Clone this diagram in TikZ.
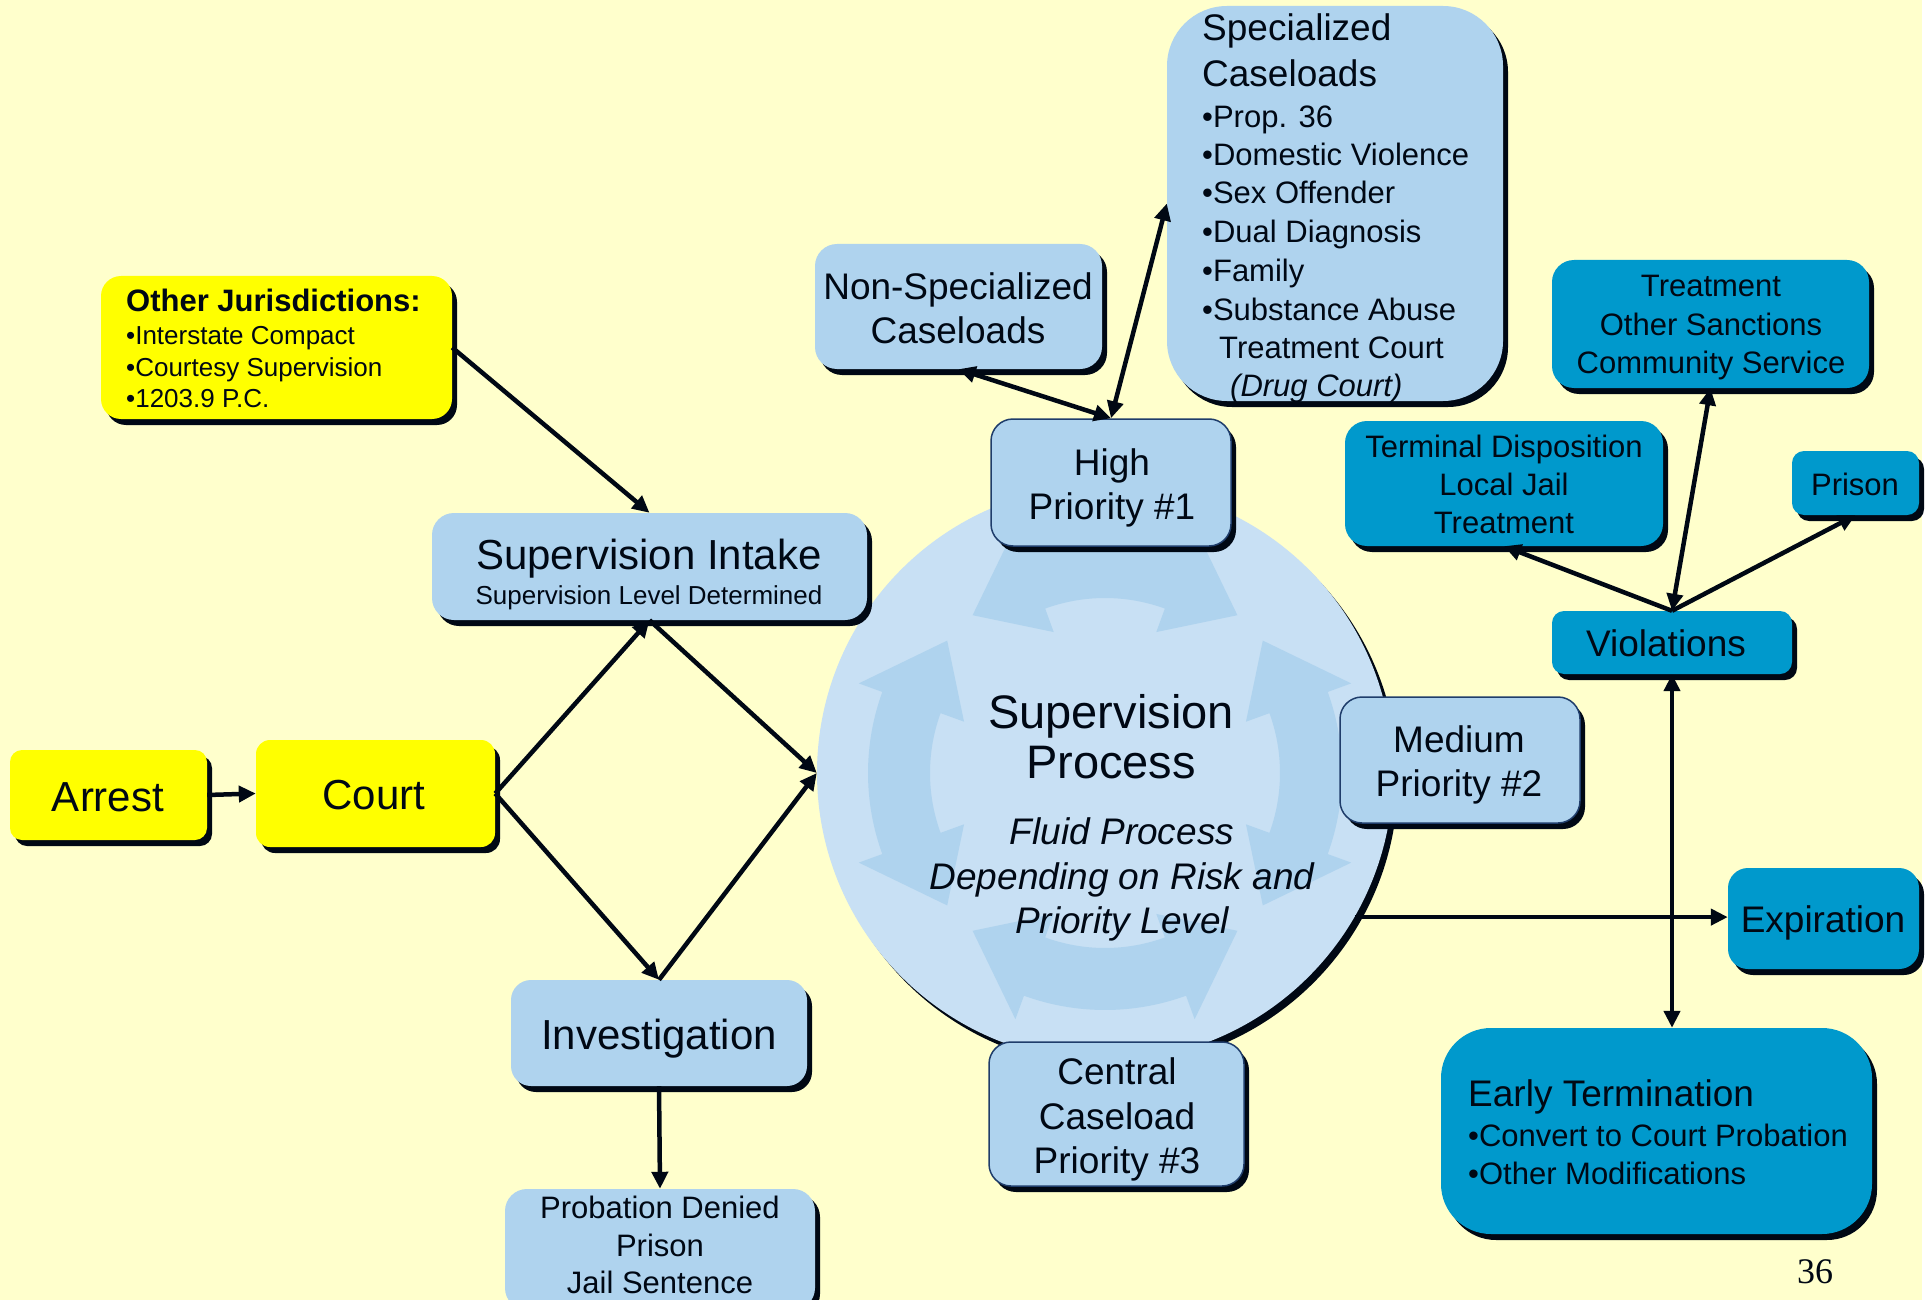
\documentclass[tikz,border=0pt]{standalone}
\usepackage{fontspec}
\setmainfont{Liberation Sans}
\newfontfamily\serifnum{Liberation Serif}
\usetikzlibrary{arrows.meta,shadows}
\definecolor{bgc}{HTML}{FFFFCC}
\definecolor{ybox}{HTML}{FFFF00}
\definecolor{lbox}{HTML}{AFD3EE}
\definecolor{circc}{HTML}{C8E0F4}
\definecolor{bandc}{HTML}{AFD3EE}
\definecolor{tealc}{HTML}{0099CC}
\definecolor{navy}{HTML}{1F3D6B}
\definecolor{ink}{HTML}{000814}
\newcommand\fsA{\fontsize{42}{50}\selectfont}
\newcommand\fsB{\fontsize{37}{44}\selectfont}
\newcommand\fsC{\fontsize{31}{38}\selectfont}
\newcommand\fsD{\fontsize{26}{31}\selectfont}
\newcommand\fsE{\fontsize{47}{56}\selectfont}
\newcommand\cycarrow[1]{%
  \fill[bandc] ({#1-40}:206) -- ({#1-20}:262) -- ({#1-20}:237)
    -- plot[domain={#1-20}:{#1+20},samples=30] (\x:237)
    -- ({#1+20}:262) -- ({#1+40}:206) -- ({#1+20}:150) -- ({#1+20}:175)
    -- plot[domain={#1+20}:{#1-20},samples=30] (\x:175)
    -- ({#1-20}:150) -- cycle;}
\begin{document}
\begin{tikzpicture}[x=1pt,y=-1pt,
  shad/.style={drop shadow={shadow xshift=5pt,shadow yshift=-6pt,opacity=1,fill=ink}},
  box/.style={rectangle,inner sep=0pt,shad},
  yb/.style={box,fill=ybox},
  lb/.style={box,fill=lbox},
  pb/.style={box,fill=lbox,draw=navy,line width=1.5pt},
  tb/.style={box,fill=tealc},
  txt/.style={inner sep=0pt,anchor=base,text=ink},
  ltxt/.style={inner sep=0pt,anchor=base west,text=ink},
  conn/.style={draw=ink,line width=4.5pt,-{Triangle[length=17pt,width=16pt]}},
  dconn/.style={draw=ink,line width=4.5pt,{Triangle[length=17pt,width=16pt]}-{Triangle[length=17pt,width=16pt]}}]
\useasboundingbox (0,0) rectangle (1931,1300);
\fill[bgc] (0,0) rectangle (1931,1300);
\fill[white] (1922,0) rectangle (1931,1300);

% central circle
\node[circle,minimum size=576pt,inner sep=0pt,fill=circc,shad] (circ) at (1105,773) {};
\begin{scope}[shift={(1105,773)}]
\cycarrow{0}
\cycarrow{90}
\cycarrow{180}
\cycarrow{270}
\end{scope}

% boxes
\node[yb,rounded corners=20pt,minimum width=351pt,minimum height=143pt] (oj) at (276.5,347.5) {};
\node[yb,rounded corners=12pt,minimum width=197pt,minimum height=90pt] (arrest) at (108.5,795) {};
\node[yb,rounded corners=14pt,minimum width=239pt,minimum height=107pt] (court) at (375.5,793.5) {};
\node[lb,rounded corners=22pt,minimum width=435pt,minimum height=107pt] (intake) at (649.5,566.5) {};
\node[lb,rounded corners=20pt,minimum width=296pt,minimum height=106pt] (invest) at (659,1033) {};
\node[lb,rounded corners=22pt,minimum width=310pt,minimum height=121pt] (prob) at (660,1249.5) {};
\node[lb,rounded corners=22pt,minimum width=287pt,minimum height=125pt] (nonspec) at (958.5,306.5) {};
\node[lb,rounded corners=60pt,minimum width=336pt,minimum height=395pt] (spec) at (1335,203.5) {};
\node[pb,rounded corners=22pt,minimum width=240pt,minimum height=127pt] (high) at (1111,482.5) {};
\node[pb,rounded corners=22pt,minimum width=240pt,minimum height=126pt] (medium) at (1460,760) {};
\node[pb,rounded corners=22pt,minimum width=255pt,minimum height=144pt] (central) at (1116.5,1114) {};
\node[tb,rounded corners=22pt,minimum width=318pt,minimum height=125pt] (terminal) at (1504,483.5) {};
\node[tb,rounded corners=22pt,minimum width=317pt,minimum height=128pt] (treat) at (1710.5,324) {};
\node[tb,rounded corners=12pt,minimum width=127pt,minimum height=64pt] (prison) at (1855.5,483) {};
\node[tb,rounded corners=12pt,minimum width=240pt,minimum height=63pt] (viol) at (1672,642.5) {};
\node[tb,rounded corners=20pt,minimum width=191pt,minimum height=101pt] (expir) at (1823.5,918.5) {};
\node[tb,rounded corners=50pt,minimum width=431pt,minimum height=206pt] (early) at (1656.5,1131) {};

% texts
\node[ltxt,font=\fsC\bfseries] (ojt1) at (126,311) {Other Jurisdictions:};
\node[ltxt,font=\fsD] (ojt2) at (126,344) {•Interstate Compact};
\node[ltxt,font=\fsD] (ojt3) at (126,376) {•Courtesy Supervision};
\node[ltxt,font=\fsD] (ojt4) at (126,407) {•1203.9 P.C.};
\node[txt,font=\fsA] (arrestt) at (108,811) {Arrest};
\node[txt,font=\fsA] (courtt) at (374,809) {Court};
\node[txt,font=\fsA] (intaket1) at (649,569) {Supervision Intake};
\node[txt,font=\fsD] (intaket2) at (649,604) {Supervision Level Determined};
\node[txt,font=\fsA] (investt) at (659,1049) {Investigation};
\node[txt,font=\fsC] (probt1) at (660,1218) {Probation Denied};
\node[txt,font=\fsC] (probt2) at (660,1256) {Prison};
\node[txt,font=\fsC] (probt3) at (660,1293) {Jail Sentence};
\node[txt,font=\fsB] (nonspect1) at (958,299) {Non-Specialized};
\node[txt,font=\fsB] (nonspect2) at (958,343) {Caseloads};
\node[ltxt,font=\fsB] (spect1) at (1202,41) {Specialized};
\node[ltxt,font=\fsB] (spect2) at (1202,87) {Caseloads};
\node[ltxt,font=\fsC] (spect3) at (1202,128) {•Prop. 36};
\node[ltxt,font=\fsC] (spect4) at (1202,166) {•Domestic Violence};
\node[ltxt,font=\fsC] (spect5) at (1202,204) {•Sex Offender};
\node[ltxt,font=\fsC] (spect6) at (1202,243) {•Dual Diagnosis};
\node[ltxt,font=\fsC] (spect7) at (1202,281) {•Family};
\node[ltxt,font=\fsC] (spect8) at (1202,320) {•Substance Abuse};
\node[ltxt,font=\fsC] (spect9) at (1219,358) {Treatment Court};
\node[ltxt,font=\fsC\itshape] (spect10) at (1230,396) {(Drug Court)};
\node[txt,font=\fsB] (hight1) at (1112,475) {High};
\node[txt,font=\fsB] (hight2) at (1112,519) {Priority \#1};
\node[txt,font=\fsB] (mediumt1) at (1459,752) {Medium};
\node[txt,font=\fsB] (mediumt2) at (1459,796) {Priority \#2};
\node[txt,font=\fsB] (centralt1) at (1117,1084) {Central};
\node[txt,font=\fsB] (centralt2) at (1117,1129) {Caseload};
\node[txt,font=\fsB] (centralt3) at (1117,1173) {Priority \#3};
\node[txt,font=\fsE] (circt1) at (1111,728) {Supervision};
\node[txt,font=\fsE] (circt2) at (1111,778) {Process};
\node[txt,font=\fsB\itshape] (circt3) at (1122,844) {Fluid Process};
\node[txt,font=\fsB\itshape] (circt4) at (1122,889) {Depending on Risk and};
\node[txt,font=\fsB\itshape] (circt5) at (1122,933) {Priority Level};
\node[txt,font=\fsC] (termt1) at (1504,457) {Terminal Disposition};
\node[txt,font=\fsC] (termt2) at (1504,495) {Local Jail};
\node[txt,font=\fsC] (termt3) at (1504,533) {Treatment};
\node[txt,font=\fsC] (treatt1) at (1711,297) {Treatment};
\node[txt,font=\fsC] (treatt2) at (1711,335) {Other Sanctions};
\node[txt,font=\fsC] (treatt3) at (1711,373) {Community Service};
\node[txt,font=\fsC] (prisont) at (1855,495) {Prison};
\node[txt,font=\fsB] (violt) at (1666,656) {Violations};
\node[txt,font=\fsB] (expirt) at (1823,932) {Expiration};
\node[ltxt,font=\fsB] (earlyt1) at (1468,1106) {Early Termination};
\node[ltxt,font=\fsC] (earlyt2) at (1468,1146) {•Convert to Court Probation};
\node[ltxt,font=\fsC] (earlyt3) at (1468,1184) {•Other Modifications};
\node[txt,font=\serifnum\fontsize{36}{40}\selectfont] (pagenum) at (1815,1283) {36};

% connectors
\draw[conn] (oj.east) -- (intake.north);
\draw[conn] (arrest.east) -- (court.west);
\draw[conn] (court.east) -- (intake.south);
\draw[conn] (court.east) -- (invest.north);
\draw[conn] (intake.south) -- (circ.west);
\draw[conn] (invest.north) -- (circ.west);
\draw[conn] (invest.south) -- (prob.north);
\draw[dconn] (high.north) -- (nonspec.south);
\draw[dconn] (high.north) -- (spec.west);
\draw[conn] (viol.north) -- (terminal.south);
\draw[dconn] (viol.north) -- (treat.south);
\draw[conn] (viol.north) -- (prison.south);
\draw[dconn] (viol.south) -- (viol.south |- early.north);
\draw[conn] (circ.-30) -- (circ.-30 -| expir.west);
\end{tikzpicture}
\end{document}
